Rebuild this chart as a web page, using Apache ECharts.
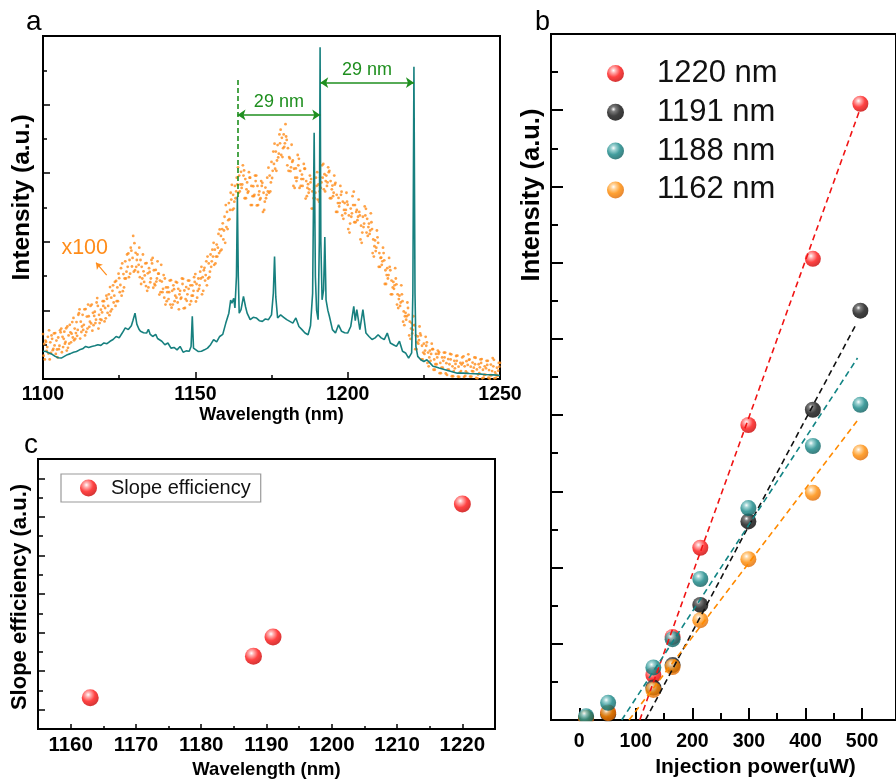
<!DOCTYPE html>
<html><head><meta charset="utf-8">
<script src="https://cdn.jsdelivr.net/npm/echarts@6/dist/echarts.min.js"></script>
<style>html,body{margin:0;padding:0;background:#fff}#c{width:896px;height:782px}</style>
</head><body><div id="c"></div>
<script>
// ---------- Panel a : emission spectrum ----------
// orange x100 spontaneous emission dots, five hand-read lanes (one value per nm, lanes offset by 0.2 nm)
const dotsStartNm = 1100;
const dotsLaneA = [1.31,1.08,1.42,1.17,1.34,1.21,1.47,1.38,1.53,1.36, 1.78,1.66,2.03,1.87,2.04,1.83,2.17,1.96,2.13,2.02, 2.27,2.34,2.68,2.73,2.86,2.94,3.37,3.43,3.66,3.74, 3.96,3.63,3.47,3.14,3.38,3.12,3.53,3.18,3.07,2.84, 2.93,2.67,2.88,2.62,2.81,2.57,2.92,2.68,2.87,2.73, 3.06,2.93,3.27,3.24,3.57,3.63,3.97,3.92,4.36,4.54, 5.07,5.13,5.66,5.63,6.17,6.04,6.08,5.73,5.87,5.62, 5.93,5.47,5.72,5.58,6.16,6.33,6.86,6.82,7.27,7.13, 6.97,6.43,6.37,6.14,6.42,5.96,6.13,5.68,5.83,5.57, 6.03,5.88,6.27,5.93,6.07,5.64,5.72,5.28,5.46,5.13, 5.08,4.97,5.46,4.93,4.77,4.73,4.96,4.53,4.37,4.04, 3.97,3.54,3.46,3.23,3.17,2.83,2.76,2.43,2.27,1.93, 1.87,1.63,1.57,1.24,1.27,1.03,1.07,0.83,0.87,0.73, 0.78,0.63,0.77,0.58,0.72,0.53,0.68,0.47,0.66,0.52, 0.57,0.48,0.62,0.43,0.58,0.37,0.53,0.42,0.56,0.33,0.47];
const dotsLaneB = [0.68,0.82,0.57,0.84,0.73,0.87,0.78,1.03,0.91,1.07, 1.13,1.26,1.18,1.43,1.37,1.52,1.41,1.63,1.47,1.72, 1.68,1.93,1.97,2.23,2.27,2.53,2.56,2.93,2.97,3.28, 3.17,3.12,2.77,2.83,2.57,2.82,2.66,2.84,2.46,2.53, 2.17,2.33,2.08,2.27,2.23,2.34,2.06,2.28,2.17,2.43, 2.26,2.63,2.47,2.87,2.93,3.27,3.33,3.57,3.73,4.07, 4.43,4.66,4.93,5.27,5.43,5.57,5.27,5.43,5.07,5.33, 5.06,5.23,4.87,5.27,5.43,5.86,6.13,6.46,6.53,6.77, 6.23,6.06,5.63,5.77,5.57,5.63,5.26,5.43,4.97,5.27, 5.23,5.57,5.53,5.63,5.27,5.33,4.87,5.03,4.77,4.83, 4.37,4.73,4.57,4.63,4.07,4.43,4.27,4.23,3.67,3.73, 3.27,3.33,2.77,2.93,2.47,2.63,2.17,2.13,1.67,1.73, 1.27,1.33,0.87,1.03,0.57,0.73,0.47,0.53,0.27,0.43, 0.17,0.33,0.16,0.27,0.08,0.31,0.07,0.23,0.06,0.18, 0.07,0.22,0.03,0.17,0.02,0.13,0.04,0.11,0.02,0.09,0.03];
const dotsLaneC = [1.02,0.93,1.07,0.88,1.12,0.97,1.23,1.08,1.27,1.32, 1.47,1.43,1.67,1.58,1.82,1.67,1.93,1.73,1.87,1.94, 2.07,2.13,2.37,2.43,2.67,2.74,3.06,3.13,3.47,3.53, 3.68,3.33,3.27,3.02,3.08,2.93,3.17,2.93,2.87,2.63, 2.67,2.53,2.57,2.43,2.63,2.37,2.58,2.47,2.73,2.57, 2.77,2.73,2.97,3.03,3.37,3.43,3.77,3.83,4.17,4.33, 4.87,4.93,5.37,5.47,5.93,5.67,5.83,5.47,5.63,5.37, 5.63,5.27,5.43,5.37,5.93,6.07,6.63,6.57,7.03,6.87, 6.73,6.17,6.13,5.87,6.07,5.83,5.77,5.53,5.47,5.43, 5.67,5.73,5.97,5.73,5.77,5.43,5.37,5.13,5.17,4.93, 4.77,4.83,5.07,4.73,4.47,4.53,4.67,4.33,4.07,3.83, 3.67,3.43,3.17,3.03,2.87,2.73,2.47,2.23,1.97,1.83, 1.67,1.43,1.27,1.13,0.97,0.83,0.77,0.73,0.57,0.63, 0.47,0.53,0.46,0.43,0.37,0.44,0.36,0.42,0.37,0.41, 0.36,0.33,0.28,0.34,0.27,0.31,0.26,0.23,0.19,0.24,0.18];
const dotsLaneD = [0.57,1.23,0.76,1.33,0.86,1.42,0.93,1.48,1.03,1.66, 1.17,1.87,1.37,2.03,1.47,2.13,1.57,2.23,1.63,2.27, 1.77,2.47,2.03,2.83,2.27,3.23,2.67,3.63,3.07,4.17, 3.27,3.83,2.93,3.37,2.67,3.47,2.77,3.43,2.53,3.03, 2.27,2.87,2.17,2.83,2.03,2.93,2.07,2.87,2.27,2.97, 2.37,3.13,2.57,3.43,2.97,3.77,3.37,4.23,3.77,4.73, 4.37,5.43,4.97,5.87,5.47,6.23,5.27,6.03,5.07,5.93, 5.07,5.77,4.93,5.87,5.47,6.63,6.07,7.13,6.47,7.43, 6.07,6.83,5.57,6.53,5.63,6.27,5.33,5.93,4.97,5.87, 5.17,6.23,5.47,6.17,5.27,5.93,4.87,5.63,4.67,5.43, 4.27,5.33,4.57,5.23,3.97,5.03,4.17,4.83,3.57,4.33, 3.27,3.83,2.77,3.53,2.47,3.23,2.07,2.73,1.57,2.23, 1.17,1.83,0.87,1.53,0.57,1.23,0.37,1.03,0.27,0.83, 0.17,0.77,0.12,0.73,0.08,0.67,0.06,0.63,0.09,0.72, 0.07,0.63,0.02,0.57,0.04,0.53,0.01,0.61,0.03,0.47,0.06];
const dotsLaneE = [1.12,0.74,1.27,0.98,0.63,1.36,1.17,0.83,1.58,1.21, 1.34,1.92,1.53,1.27,2.17,1.62,1.84,2.36,1.74,2.13, 2.43,1.86,2.57,2.13,3.07,2.43,2.93,3.27,3.83,3.13, 3.47,2.97,3.63,2.71,3.23,3.37,2.73,3.07,3.33,2.37, 2.53,2.17,2.73,2.37,2.47,2.77,2.33,2.63,2.43,2.83, 2.57,2.93,3.17,2.73,3.13,3.57,3.57,3.67,4.37,3.97, 4.63,5.23,5.17,5.67,5.67,5.93,5.53,5.87,5.33,5.77, 5.37,5.63,5.17,5.47,5.73,6.27,6.37,6.87,6.73,7.07, 6.47,6.33,5.87,6.23,5.83,6.13,5.57,5.73,5.27,5.63, 5.47,5.87,5.77,6.03,5.53,5.67,5.13,5.37,4.93,5.17, 4.53,5.07,4.87,4.87,4.27,4.77,4.43,4.57,3.87,4.13, 3.53,3.67,3.03,3.27,2.67,2.93,2.33,2.47,1.83,2.07, 1.47,1.57,1.07,1.33,0.77,0.97,0.63,0.87,0.43,0.73, 0.33,0.63,0.27,0.57,0.23,0.53,0.19,0.47,0.22,0.56, 0.23,0.43,0.13,0.47,0.12,0.41,0.11,0.37,0.13,0.36,0.08];
// teal lasing spectrum [wavelength nm, intensity]
const spectrumLine = [[1100,0.81],[1101,0.8],[1102,0.76],[1103,0.72],[1104,0.66],[1105,0.62],[1106,0.61],[1107,0.66],[1108,0.71],[1109,0.74],[1110,0.78],[1111,0.8],[1112,0.85],[1113,0.88],[1114,0.95],[1115,0.92],[1116,0.95],[1117,0.97],[1118,1.0],[1119,0.98],[1120,1.05],[1121,1.03],[1122,1.1],[1123,1.15],[1124,1.24],[1125,1.2],[1126,1.34],[1127,1.49],[1128,1.44],[1129,1.55],[1129.5,1.7],[1130.2,1.92],[1130.8,1.6],[1131.5,1.45],[1132,1.39],[1133,1.35],[1134,1.34],[1134.6,1.45],[1135.2,1.3],[1136,1.24],[1137,1.3],[1137.6,1.18],[1138,1.15],[1139,1.1],[1140,1.0],[1141,1.05],[1142,0.9],[1143,0.92],[1144,0.85],[1145,0.95],[1146,0.78],[1147,0.82],[1148,0.81],[1148.6,0.95],[1149,1.83],[1149.4,0.9],[1150,0.85],[1151,0.8],[1152,0.81],[1153,0.85],[1154,0.9],[1155,1.0],[1156,1.15],[1157,1.08],[1158,1.24],[1159,1.3],[1160,1.63],[1161,1.92],[1161.6,2.3],[1162,2.21],[1162.6,2.35],[1163,2.07],[1163.5,3.0],[1163.8,5.32],[1164.1,3.0],[1164.4,1.92],[1165,2.02],[1165.8,2.41],[1166.5,2.1],[1167,1.92],[1168,1.73],[1169,1.8],[1170,1.78],[1171,1.7],[1172,1.68],[1173,1.75],[1174,1.73],[1175,1.87],[1175.6,2.5],[1176,3.57],[1176.4,2.4],[1177,1.78],[1178,1.87],[1179,1.8],[1180,1.73],[1181,1.68],[1182,1.63],[1183,1.78],[1184,1.53],[1185,1.44],[1186,1.34],[1187,1.29],[1187.8,1.55],[1188.5,2.5],[1189,7.18],[1189.4,3.0],[1189.8,2.0],[1190.3,1.73],[1190.7,4.0],[1190.95,9.67],[1191.2,4.0],[1191.6,2.31],[1192.1,2.6],[1192.5,4.14],[1192.9,2.31],[1193.5,2.0],[1194,1.83],[1195,1.44],[1196,1.34],[1197,1.58],[1198,1.39],[1199,1.35],[1200,1.34],[1201,1.53],[1202,2.12],[1202.5,1.7],[1203,2.02],[1204,1.44],[1205,2.02],[1206,1.34],[1207,1.24],[1208,1.15],[1209,1.2],[1210,1.29],[1211,1.2],[1212,1.15],[1213,1.34],[1214,1.05],[1215,1.0],[1216,0.95],[1217,1.1],[1218,0.81],[1219,0.76],[1220,0.61],[1221,0.76],[1221.4,2.5],[1221.75,9.1],[1222.1,2.5],[1222.4,0.95],[1223,0.66],[1224,0.56],[1225,0.51],[1226,0.56],[1227,0.47],[1228,0.37],[1229,0.35],[1230,0.32],[1232,0.27],[1234,0.22],[1236,0.17],[1238,0.17],[1240,0.16],[1243,0.15],[1245,0.13],[1248,0.12],[1250,0.1]];

// ---------- Panel b : light-in / light-out ----------
const injectionPower = [12, 51, 131, 165, 214, 299, 413, 497];
const int1220 = [0.05, 0.2, 1.18, 2.18, 4.52, 7.74, 12.1, 16.17];
const int1191 = [0.05, 0.15, 0.85, 1.44, 3.02, 5.21, 8.14, 10.74];
const int1188 = [0.1, 0.45, 1.38, 2.12, 3.70, 5.56, 7.19, 8.27];
const int1162 = [0.05, 0.18, 0.79, 1.39, 2.62, 4.22, 5.96, 7.02];
const fit1220 = [[107, 0], [495, 15.97]];
const fit1191 = [[117, 0], [489, 10.37]];
const fit1188 = [[75, 0], [492, 9.5]];
const fit1162 = [[88, 0], [495, 7.92]];
const powerTicks = [0, 100, 200, 300, 400, 500];
const powerMinorTicks = [50, 150, 250, 350, 450];

// ---------- Panel c : slope efficiency ----------
const slopeWavelength = [1163, 1188, 1191, 1220];
const slopeEfficiency = [1.62, 3.77, 4.77, 11.67];
const slopeTicks = [1160, 1170, 1180, 1190, 1200, 1210, 1220];
const slopeMinorTicks = [1165, 1175, 1185, 1195, 1205, 1215];

const FONT = '"Liberation Sans", Arial, sans-serif';
const GREEN = '#1f8f1f', TEAL = '#17807f', ORANGE = '#ff8c1a';

function sphere(light, base, dark) {
  return {type: 'radial', x: 0.38, y: 0.32, r: 0.72, colorStops: [
    {offset: 0, color: '#ffffff'}, {offset: 0.2, color: light},
    {offset: 0.55, color: base}, {offset: 1, color: dark}]};
}
const C_RED = sphere('#ff9c9c', '#ff1414', '#c40000');
const C_BLACK = sphere('#5a5a5a', '#111111', '#000000');
const C_TEAL = sphere('#86c8c8', '#138585', '#0a5a5a');
const C_ORANGE = sphere('#ffca85', '#ff8a00', '#dc6600');

const dotData = [];
[dotsLaneA, dotsLaneB, dotsLaneC, dotsLaneD, dotsLaneE].forEach((lane, k) => {
  lane.forEach((v, i) => { const x = dotsStartNm + i + k * 0.2; if (x <= 1250) dotData.push([x, v]); });
});
const pairs = (xs, ys) => xs.map((x, i) => [x, ys[i]]);
const plain = v => String(v);

const axLine = {show: true, onZero: false, lineStyle: {color: '#000', width: 2}};
const tickLbl = (size, margin, extra) => Object.assign({show: true, color: '#000', fontFamily: FONT, fontWeight: 'bold', fontSize: size, margin: margin, showMinLabel: true, showMaxLabel: true, formatter: plain}, extra || {});

const chart = echarts.init(document.getElementById('c'), null, {renderer: 'canvas'});
chart.setOption({
  animation: false,
  backgroundColor: '#fff',
  grid: [
    {left: 43, top: 36, width: 457, height: 343, show: true, borderColor: '#000', borderWidth: 2, backgroundColor: 'transparent'},
    {left: 551, top: 34, width: 358, height: 686, show: true, borderColor: '#000', borderWidth: 2, backgroundColor: 'transparent'},
    {left: 38, top: 459, width: 457, height: 270, show: true, borderColor: '#000', borderWidth: 2, backgroundColor: 'transparent'}
  ],
  xAxis: [
    {gridIndex: 0, type: 'value', position: 'bottom', min: 1100, max: 1250, interval: 50,
     axisLine: axLine, axisTick: {show: true, inside: true, length: 7, lineStyle: {color: '#000', width: 1.5}},
     minorTick: {show: true, splitNumber: 2, length: 4, lineStyle: {color: '#000', width: 1.5}},
     axisLabel: tickLbl(19.5, 6), splitLine: {show: false},
     name: 'Wavelength (nm)', nameLocation: 'middle', nameGap: 24,
     nameTextStyle: {color: '#000', fontFamily: FONT, fontWeight: 'bold', fontSize: 18}},
    {gridIndex: 1, type: 'value', position: 'bottom', min: -50, max: 560,
     axisLine: axLine, axisTick: {show: true, inside: true, length: 12, customValues: powerTicks, lineStyle: {color: '#000', width: 2}},
     axisLabel: tickLbl(19.5, 12, {customValues: powerTicks}), splitLine: {show: false}},
    {gridIndex: 1, type: 'value', position: 'bottom', min: -50, max: 560,
     axisLine: {show: false}, axisTick: {show: true, inside: true, length: 7, customValues: powerMinorTicks, lineStyle: {color: '#000', width: 2}},
     axisLabel: {show: false}, splitLine: {show: false}},
    {gridIndex: 2, type: 'value', position: 'bottom', min: 1155, max: 1225,
     axisLine: axLine, axisTick: {show: true, inside: true, length: 5, customValues: slopeTicks, lineStyle: {color: '#000', width: 1.5}},
     axisLabel: tickLbl(20.5, 5.5, {customValues: slopeTicks}), splitLine: {show: false},
     name: 'Wavelength (nm)', nameLocation: 'middle', nameGap: 31,
     nameTextStyle: {color: '#000', fontFamily: FONT, fontWeight: 'bold', fontSize: 18.5}},
    {gridIndex: 2, type: 'value', position: 'bottom', min: 1155, max: 1225,
     axisLine: {show: false}, axisTick: {show: true, inside: true, length: 3, customValues: slopeMinorTicks, lineStyle: {color: '#000', width: 1.5}},
     axisLabel: {show: false}, splitLine: {show: false}}
  ],
  yAxis: [
    {gridIndex: 0, type: 'value', position: 'left', min: 0, max: 10, interval: 2,
     axisLine: axLine, axisTick: {show: true, inside: true, length: 7, lineStyle: {color: '#000', width: 1.5}},
     minorTick: {show: true, splitNumber: 2, length: 4, lineStyle: {color: '#000', width: 1.5}},
     axisLabel: {show: false}, splitLine: {show: false}, minorSplitLine: {show: false}},
    {gridIndex: 1, type: 'value', position: 'left', min: 0, max: 18, interval: 2,
     axisLine: axLine, axisTick: {show: true, inside: true, length: 12, lineStyle: {color: '#000', width: 2}},
     minorTick: {show: true, splitNumber: 2, length: 7, lineStyle: {color: '#000', width: 2}},
     axisLabel: {show: false}, splitLine: {show: false}, minorSplitLine: {show: false}},
    {gridIndex: 2, type: 'value', position: 'left', min: 0, max: 14,
     axisLine: axLine, axisTick: {show: true, inside: true, length: 7, customValues: [1, 3, 5, 7, 9, 11, 13], lineStyle: {color: '#000', width: 1.5}},
     axisLabel: {show: false}, splitLine: {show: false}},
    {gridIndex: 2, type: 'value', position: 'left', min: 0, max: 14,
     axisLine: {show: false}, axisTick: {show: true, inside: true, length: 5, customValues: [2, 4, 6, 8, 10, 12], lineStyle: {color: '#000', width: 1.5}},
     axisLabel: {show: false}, splitLine: {show: false}}
  ],
  legend: [
    {data: ['1220 nm', '1191 nm', '1188 nm', '1162 nm'], orient: 'vertical', left: 602, top: 53,
     itemWidth: 17, itemHeight: 17, itemGap: 7.8, selectedMode: false,
     textStyle: {fontFamily: FONT, fontSize: 31, lineHeight: 31, color: '#111', padding: [0, 0, 0, 28]}},
    {data: ['Slope efficiency'], orient: 'vertical', left: 61, top: 474,
     itemWidth: 17, itemHeight: 17, selectedMode: false, padding: [4, 10, 4, 19],
     borderColor: '#9a9a9a', borderWidth: 1.2, backgroundColor: '#fff',
     textStyle: {fontFamily: FONT, fontSize: 20, lineHeight: 20, color: '#111', padding: [0, 0, 0, 9]}}
  ],
  graphic: [
    {type: 'text', x: 26, y: 22, style: {text: 'a', fontFamily: FONT, fontSize: 28, fill: '#000', align: 'left', verticalAlign: 'middle'}},
    {type: 'text', x: 535, y: 22.5, style: {text: 'b', fontFamily: FONT, fontSize: 27, fill: '#000', align: 'left', verticalAlign: 'middle'}},
    {type: 'text', x: 24, y: 445, style: {text: 'c', fontFamily: FONT, fontSize: 28, fill: '#000', align: 'left', verticalAlign: 'middle'}},
    {type: 'text', x: 22, y: 197.5, rotation: Math.PI / 2, style: {text: 'Intensity (a.u.)', fontFamily: FONT, fontWeight: 'bold', fontSize: 24.5, fill: '#000', align: 'center', verticalAlign: 'middle'}},
    {type: 'text', x: 532, y: 195, rotation: Math.PI / 2, style: {text: 'Intensity (a.u.)', fontFamily: FONT, fontWeight: 'bold', fontSize: 25.5, fill: '#000', align: 'center', verticalAlign: 'middle'}},
    {type: 'text', x: 755.5, y: 767, style: {text: 'Injection power(uW)', fontFamily: FONT, fontWeight: 'bold', fontSize: 21, fill: '#000', align: 'center', verticalAlign: 'middle'}},
    {type: 'text', x: 20, y: 597, rotation: Math.PI / 2, style: {text: 'Slope efficiency (a.u.)', fontFamily: FONT, fontWeight: 'bold', fontSize: 22, fill: '#000', align: 'center', verticalAlign: 'middle'}},
    {type: 'text', x: 84.7, y: 248.3, style: {text: 'x100', fontFamily: FONT, fontSize: 21.5, fill: ORANGE, align: 'center', verticalAlign: 'middle'}},
    {type: 'rect', z: 100, shape: {x: 551, y: 721.2, width: 358, height: 9}, style: {fill: '#fff'}}
  ],
  series: [
    {name: 'x100 emission', type: 'scatter', xAxisIndex: 0, yAxisIndex: 0, symbol: 'circle', symbolSize: 2.8,
     itemStyle: {color: ORANGE}, data: dotData, z: 2, silent: true},
    {name: 'Lasing spectrum', type: 'line', xAxisIndex: 0, yAxisIndex: 0, data: spectrumLine, showSymbol: false, symbol: 'none',
     lineStyle: {color: TEAL, width: 1.6}, z: 3, silent: true,
     markLine: {silent: true, animation: false, symbol: ['arrow', 'arrow'], symbolSize: 8,
       data: [
         [{coord: [1163.85, 8.72], symbol: 'none', lineStyle: {color: GREEN, width: 1.6, type: [5, 3]}, label: {show: false}},
          {coord: [1163.85, 5.3], symbol: 'none'}],
         [{coord: [1163.85, 7.7], lineStyle: {color: GREEN, width: 1.6, type: 'solid'},
           label: {show: true, position: 'insideMiddleTop', distance: 4, formatter: '29 nm', color: GREEN, fontFamily: FONT, fontSize: 18}},
          {coord: [1191, 7.7]}],
         [{coord: [1191, 8.64], lineStyle: {color: GREEN, width: 1.6, type: 'solid'},
           label: {show: true, position: 'insideMiddleTop', distance: 4, formatter: '29 nm', color: GREEN, fontFamily: FONT, fontSize: 18}},
          {coord: [1221.75, 8.64]}],
         [{coord: [1120.9, 3.03], symbol: 'none', lineStyle: {color: ORANGE, width: 1.2, type: 'solid'}, label: {show: false}},
          {coord: [1117.4, 3.39], symbol: 'arrow', symbolSize: 6}]
       ]}},
    {name: '1220 nm', type: 'scatter', xAxisIndex: 1, yAxisIndex: 1, symbolSize: 16, itemStyle: {color: C_RED}, data: pairs(injectionPower, int1220), z: 2},
    {name: '1191 nm', type: 'scatter', xAxisIndex: 1, yAxisIndex: 1, symbolSize: 16, itemStyle: {color: C_BLACK}, data: pairs(injectionPower, int1191), z: 2},
    {name: '1162 nm', type: 'scatter', xAxisIndex: 1, yAxisIndex: 1, symbolSize: 16, itemStyle: {color: C_ORANGE}, data: pairs(injectionPower, int1162), z: 2},
    {name: '1188 nm', type: 'scatter', xAxisIndex: 1, yAxisIndex: 1, symbolSize: 16, itemStyle: {color: C_TEAL}, data: pairs(injectionPower, int1188), z: 2},
    {name: 'fit 1220', type: 'line', xAxisIndex: 1, yAxisIndex: 1, data: fit1220, symbol: 'none', z: 4, silent: true, lineStyle: {color: '#f01414', width: 1.6, type: [6, 4]}},
    {name: 'fit 1191', type: 'line', xAxisIndex: 1, yAxisIndex: 1, data: fit1191, symbol: 'none', z: 4, silent: true, lineStyle: {color: '#111', width: 1.6, type: [6, 4]}},
    {name: 'fit 1188', type: 'line', xAxisIndex: 1, yAxisIndex: 1, data: fit1188, symbol: 'none', z: 4, silent: true, lineStyle: {color: '#138585', width: 1.6, type: [6, 4]}},
    {name: 'fit 1162', type: 'line', xAxisIndex: 1, yAxisIndex: 1, data: fit1162, symbol: 'none', z: 4, silent: true, lineStyle: {color: '#ff8a00', width: 1.6, type: [6, 4]}},
    {name: 'Slope efficiency', type: 'scatter', xAxisIndex: 3, yAxisIndex: 2, symbolSize: 17, itemStyle: {color: C_RED}, data: pairs(slopeWavelength, slopeEfficiency), z: 2}
  ]
});
</script></body></html>
